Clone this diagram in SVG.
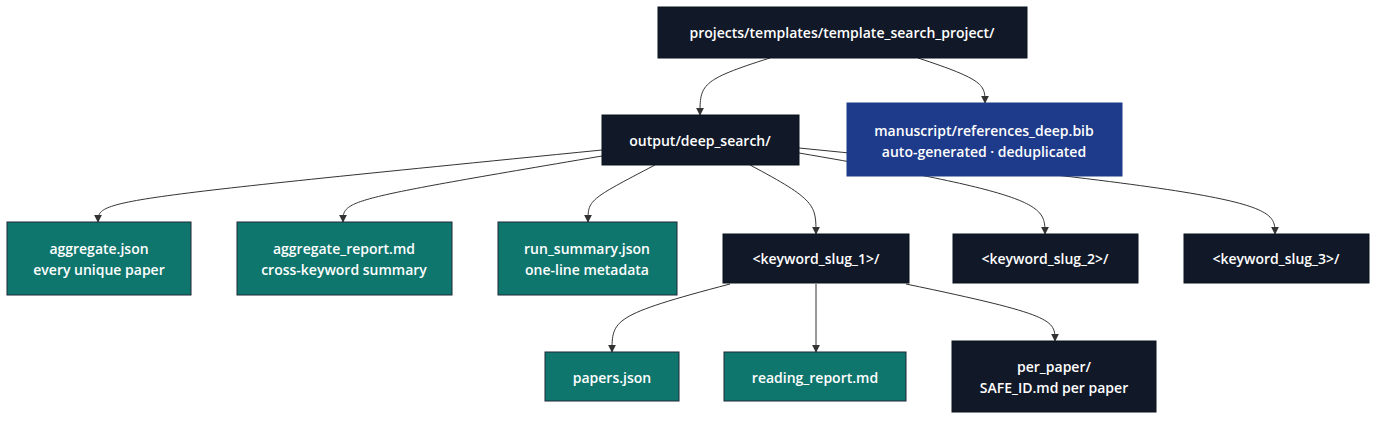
<svg xmlns="http://www.w3.org/2000/svg" width="1384" height="424" viewBox="0 0 1384 424">
<style>
.d{fill:#111827;stroke:#0b1220;stroke-width:1}
.t{fill:#0f766e;stroke:#1f2937;stroke-width:1}
.b{fill:#1e3a8a;stroke:#1e3a8a;stroke-width:1}
text{font-family:"Open Sans","Liberation Sans",sans-serif;font-size:14px;font-weight:600;fill:#fff;text-anchor:middle;dominant-baseline:central}
.e path{fill:none;stroke:#333;stroke-width:1;marker-end:url(#a)}
</style>
<defs><marker id="a" viewBox="0 0 10 10" refX="9" refY="5" markerWidth="8" markerHeight="8" orient="auto"><path d="M0,0L10,5L0,10z" fill="#333"/></marker></defs>
<g class="e">
<path d="M770,58C700,80 700,85 700,115"/>
<path d="M918,58C985,80 985,85 985,103"/>
<path d="M602,150C100,200 98,200 98,222"/>
<path d="M602,156C343,200 343,200 343,222"/>
<path d="M655,165C588,200 588,200 588,222"/>
<path d="M750,165C816,200 816,205 816,234"/>
<path d="M799,153C1045,195 1045,205 1045,234"/>
<path d="M799,148C1275,195 1275,205 1275,234"/>
<path d="M730,284C612,315 612,320 612,352"/>
<path d="M816,284L816,352"/>
<path d="M906,284C1055,315 1055,320 1055,341"/>
</g>
<g id="root"><rect class="d" x="658" y="7" width="369" height="51"/><text x="842" y="32">projects/templates/template_search_project/</text></g>
<g id="out"><rect class="d" x="602" y="115" width="197" height="50"/><text x="700" y="140">output/deep_search/</text></g>
<g id="bib"><rect class="b" x="847" y="103" width="275" height="73"/><text x="984" y="130">manuscript/references_deep.bib</text><text x="984" y="151">auto-generated · deduplicated</text></g>
<g id="agg"><rect class="t" x="7" y="222" width="184" height="73"/><text x="99" y="248">aggregate.json</text><text x="99" y="269">every unique paper</text></g>
<g id="aggr"><rect class="t" x="237" y="222" width="215" height="73"/><text x="344" y="248">aggregate_report.md</text><text x="344" y="269">cross-keyword summary</text></g>
<g id="run"><rect class="t" x="498" y="222" width="179" height="73"/><text x="587" y="248">run_summary.json</text><text x="587" y="269">one-line metadata</text></g>
<g id="k1"><rect class="d" x="723" y="234" width="186" height="49"/><text x="816" y="258">&lt;keyword_slug_1&gt;/</text></g>
<g id="k2"><rect class="d" x="953" y="234" width="185" height="49"/><text x="1045" y="258">&lt;keyword_slug_2&gt;/</text></g>
<g id="k3"><rect class="d" x="1184" y="234" width="185" height="49"/><text x="1276" y="258">&lt;keyword_slug_3&gt;/</text></g>
<g id="pj"><rect class="t" x="545" y="352" width="134" height="49"/><text x="612" y="377">papers.json</text></g>
<g id="rr"><rect class="t" x="724" y="352" width="182" height="49"/><text x="815" y="377">reading_report.md</text></g>
<g id="pp"><rect class="d" x="952" y="341" width="204" height="71"/><text x="1054" y="366">per_paper/</text><text x="1054" y="387">SAFE_ID.md per paper</text></g>
</svg>
